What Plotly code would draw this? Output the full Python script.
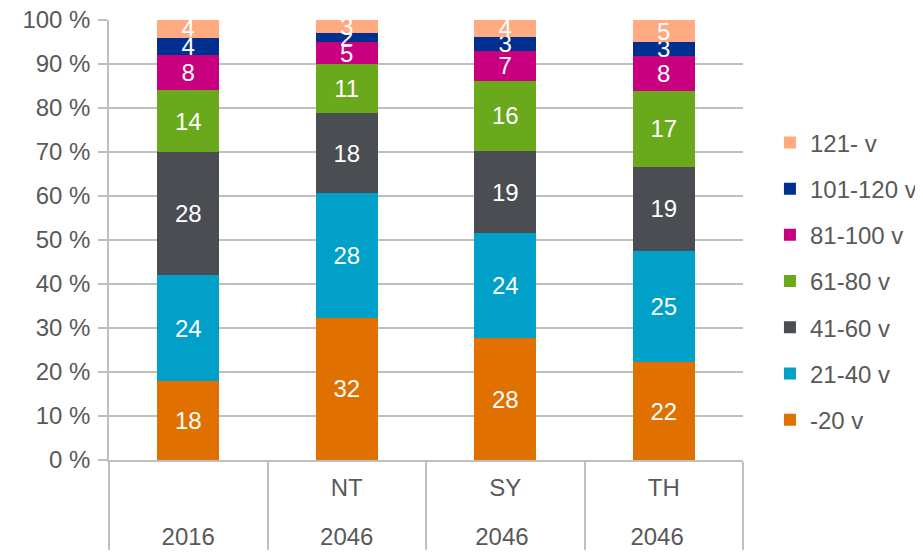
import plotly.graph_objects as go

years = ["2016", "2046", "2046 ", "2046  "]
scenarios = [" ", "NT", "SY", "TH"]

series_names = ["-20 v", "21-40 v", "41-60 v", "61-80 v", "81-100 v", "101-120 v", "121- v"]
v_0_20 = [18, 32, 28, 22]
v_21_40 = [24, 28, 24, 25]
v_41_60 = [28, 18, 19, 19]
v_61_80 = [14, 11, 16, 17]
v_81_100 = [8, 5, 7, 8]
v_101_120 = [4, 2, 3, 3]
v_121 = [4, 3, 4, 5]
series_values = [v_0_20, v_21_40, v_41_60, v_61_80, v_81_100, v_101_120, v_121]
colors = ["#E07000", "#00A0C8", "#4A4D51", "#6AA81C", "#C8007F", "#00308F", "#FFAA80"]

FONT = "Liberation Sans, Arial, sans-serif"
TXT = "#595959"
GRID = "#BFBFBF"
FS = 24

def big(s):
    return f"<span style='font-size:{FS}px'>{s}</span>"

x_outer = [big(y) for y in years]
x_inner = [big(s) + "<br> " for s in scenarios]

fig = go.Figure()
n = len(series_names)
for i, (name, vals, col) in enumerate(zip(series_names, series_values, colors)):
    fig.add_trace(go.Bar(
        name=name, x=[x_outer, x_inner], y=vals,
        marker=dict(color=col, line=dict(width=0)),
        text=[str(v) for v in vals], textposition="inside", textangle=0,
        insidetextanchor="middle", constraintext="none",
        textfont=dict(color="white", size=FS, family=FONT),
        legendgroup=f"g{i}", legendrank=n - i,
    ))

fig.update_layout(
    width=915, height=544,
    barmode="stack", barnorm="percent", bargap=0.61,
    uniformtext=dict(minsize=FS, mode="show"),
    margin=dict(l=101, r=180, t=12, b=92, autoexpand=False),
    paper_bgcolor="white", plot_bgcolor="white",
    font=dict(family=FONT, size=FS, color=TXT),
    legend=dict(
        x=1.0425, xanchor="left", y=0.406, yanchor="middle",
        traceorder="grouped", tracegroupgap=12,
        font=dict(size=FS, color=TXT, family=FONT),
        itemwidth=30,
    ),
    xaxis=dict(
        type="multicategory", showline=True, linecolor=GRID, linewidth=1.5,
        showdividers=True, dividercolor=GRID, dividerwidth=1.5,
        tickfont=dict(size=21.5, color=TXT, family=FONT),
        ticks="", showgrid=False, ticklabeloverflow="allow",
        ticklabelstandoff=8,
    ),
    yaxis=dict(
        range=[0, 100], dtick=10, ticksuffix=" %",
        showgrid=True, gridcolor=GRID, gridwidth=1.5,
        showline=True, linecolor=GRID, linewidth=1.5,
        ticks="outside", ticklen=9, tickcolor=GRID, tickwidth=1.5,
        ticklabelstandoff=3, ticklabeloverflow="allow",
        tickfont=dict(size=FS, color=TXT, family=FONT),
        zeroline=False,
    ),
)

fig.write_html("out.html")
